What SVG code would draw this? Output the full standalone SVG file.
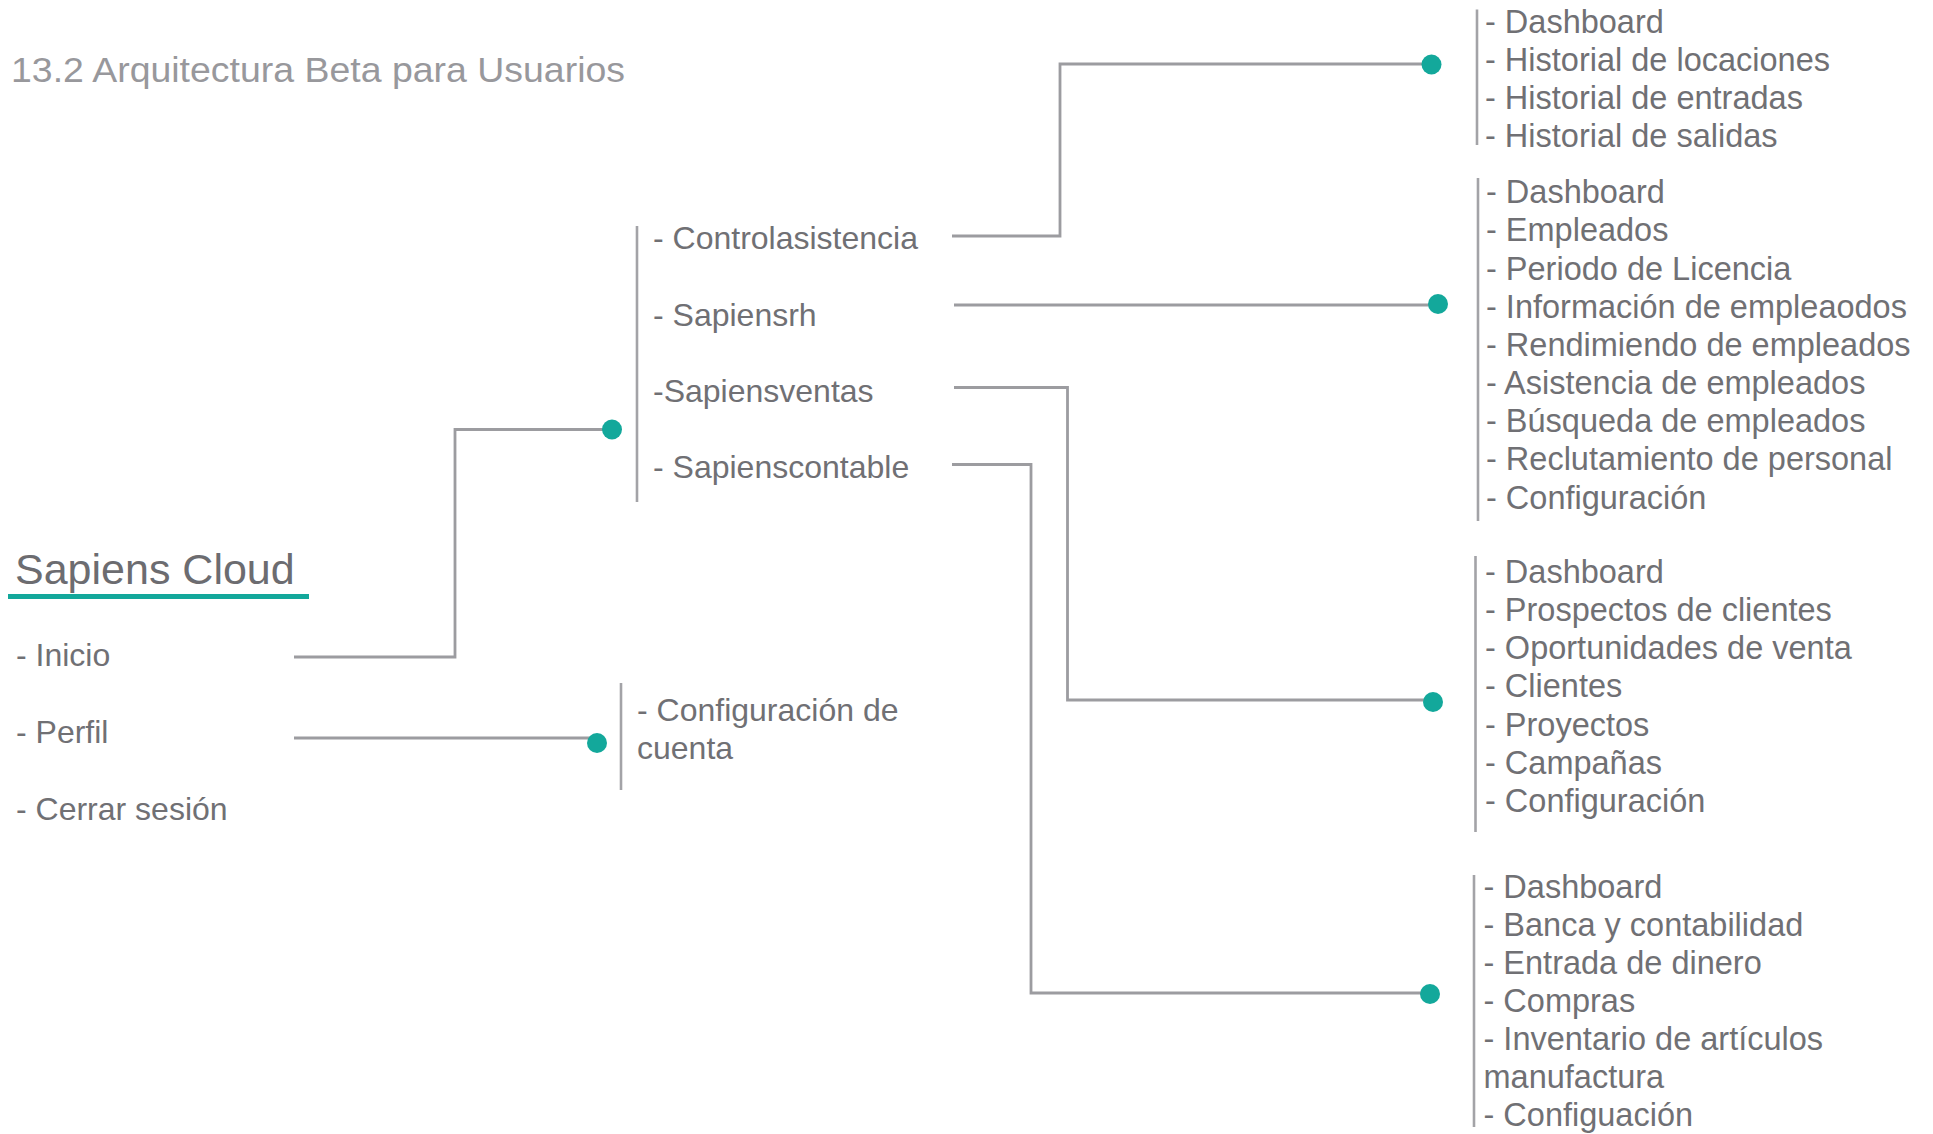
<svg xmlns="http://www.w3.org/2000/svg" width="1933" height="1134" viewBox="0 0 1933 1134">
<defs>
<style>
text { font-family: "Liberation Sans", Arial, sans-serif; fill: #707074; font-size: 32px; }
.title { fill: #98989c; font-size: 35px; }
.root { font-size: 43px; fill: #6c6c70; }
.r { font-size: 32.5px; }
.conn { fill: none; stroke: #9c9ca0; stroke-width: 2.8; }
.bracket { stroke: #a3a3a7; stroke-width: 2.6; }
.dot { fill: #13a89b; }
</style>
</defs>
<rect width="1933" height="1134" fill="#ffffff"/>
<text class="title" x="11" y="82" textLength="614" lengthAdjust="spacingAndGlyphs">13.2 Arquitectura Beta para Usuarios</text>

<g id="connectors">
<polyline class="conn" points="294,657 455,657 455,429.5 612,429.5"/>
<polyline class="conn" points="294,738 597,738"/>
<polyline class="conn" points="952,236 1060,236 1060,64 1431,64"/>
<polyline class="conn" points="954,305 1438,305"/>
<polyline class="conn" points="954,387.5 1067.5,387.5 1067.5,700 1433,700"/>
<polyline class="conn" points="952,464.5 1031,464.5 1031,993 1430,993"/>
<circle class="dot" cx="612" cy="429.5" r="10"/>
<circle class="dot" cx="597" cy="743" r="10"/>
<circle class="dot" cx="1431.5" cy="64.5" r="10"/>
<circle class="dot" cx="1438" cy="304" r="10"/>
<circle class="dot" cx="1433" cy="702" r="10"/>
<circle class="dot" cx="1430" cy="994" r="10"/>
</g>

<g id="root">
<text class="root" x="15" y="584">Sapiens Cloud</text>
<line x1="8" y1="596.5" x2="309" y2="596.5" stroke="#13a89b" stroke-width="5"/>
<text x="16" y="666">- Inicio</text>
<text x="16" y="743">- Perfil</text>
<text x="16" y="820">- Cerrar sesión</text>
</g>

<g id="modulos">
<line class="bracket" x1="637" y1="226" x2="637" y2="502"/>
<text x="653" y="249">- Controlasistencia</text>
<text x="653" y="326">- Sapiensrh</text>
<text x="653" y="402">-Sapiensventas</text>
<text x="653" y="478">- Sapienscontable</text>
</g>

<g id="perfil">
<line class="bracket" x1="621" y1="683" x2="621" y2="790"/>
<text x="637" y="721">- Configuración de</text>
<text x="637" y="759">cuenta</text>
</g>

<g id="controlasistencia">
<line class="bracket" x1="1477" y1="9.5" x2="1477" y2="145"/>
<text class="r" x="1485" y="32.5">- Dashboard</text>
<text class="r" x="1485" y="70.5">- Historial de locaciones</text>
<text class="r" x="1485" y="109">- Historial de entradas</text>
<text class="r" x="1485" y="147">- Historial de salidas</text>
</g>

<g id="sapiensrh">
<line class="bracket" x1="1478" y1="178" x2="1478" y2="521"/>
<text class="r" x="1486" y="203">- Dashboard</text>
<text class="r" x="1486" y="241">- Empleados</text>
<text class="r" x="1486" y="279.5">- Periodo de Licencia</text>
<text class="r" x="1486" y="317.5">- Información de empleaodos</text>
<text class="r" x="1486" y="355.5">- Rendimiendo de empleados</text>
<text class="r" x="1486" y="393.5">- Asistencia de empleados</text>
<text class="r" x="1486" y="432">- Búsqueda de empleados</text>
<text class="r" x="1486" y="470">- Reclutamiento de personal</text>
<text class="r" x="1486" y="508.5">- Configuración</text>
</g>

<g id="sapiensventas">
<line class="bracket" x1="1475.5" y1="556" x2="1475.5" y2="832"/>
<text class="r" x="1485" y="582.5">- Dashboard</text>
<text class="r" x="1485" y="620.5">- Prospectos de clientes</text>
<text class="r" x="1485" y="659">- Oportunidades de venta</text>
<text class="r" x="1485" y="697">- Clientes</text>
<text class="r" x="1485" y="736">- Proyectos</text>
<text class="r" x="1485" y="774">- Campañas</text>
<text class="r" x="1485" y="812">- Configuración</text>
</g>

<g id="sapienscontable">
<line class="bracket" x1="1474" y1="875" x2="1474" y2="1127"/>
<text class="r" x="1483.5" y="898">- Dashboard</text>
<text class="r" x="1483.5" y="936">- Banca y contabilidad</text>
<text class="r" x="1483.5" y="974">- Entrada de dinero</text>
<text class="r" x="1483.5" y="1011.5">- Compras</text>
<text class="r" x="1483.5" y="1049.5">- Inventario de artículos</text>
<text class="r" x="1483.5" y="1088">manufactura</text>
<text class="r" x="1483.5" y="1126">- Configuación</text>
</g>
</svg>
